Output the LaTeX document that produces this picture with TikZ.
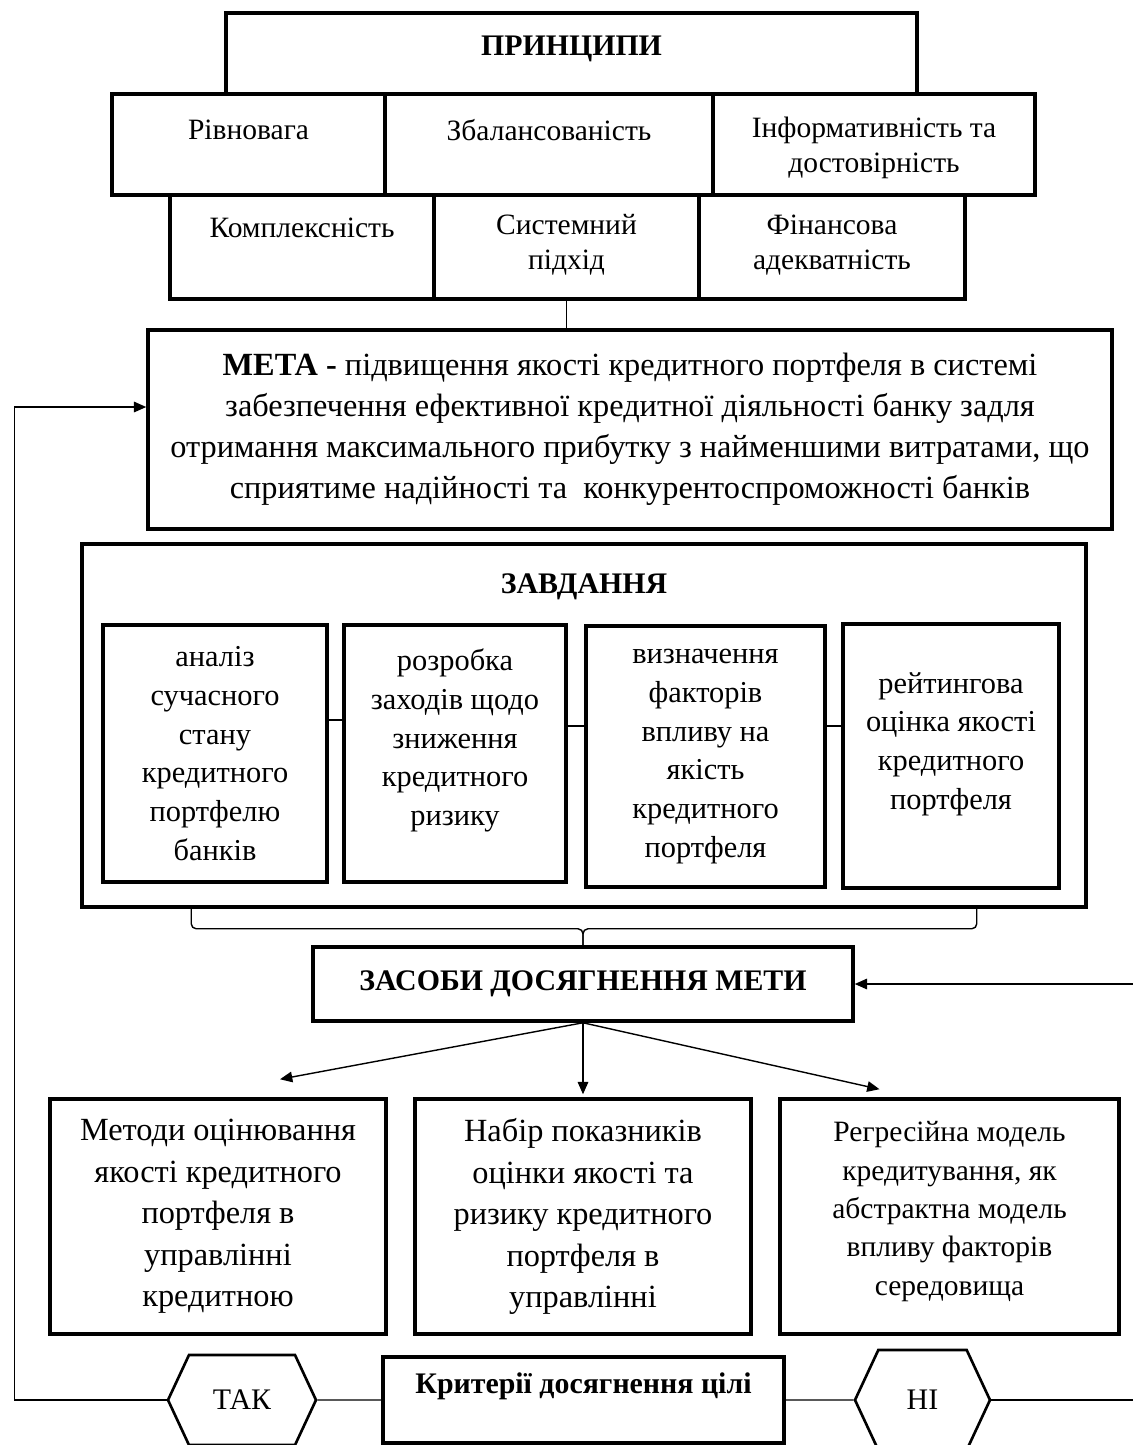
\documentclass[tikz,border=0pt]{standalone}
\usepackage{fontspec}
\setmainfont{Liberation Serif}
\usetikzlibrary{arrows.meta, positioning, shapes.symbols}

\begin{document}
\begin{tikzpicture}[x=0.02cm, y=-0.02cm,
  wh/.style 2 args={minimum width=#1*0.02cm, minimum height=#2*0.02cm},
  cell/.style={draw, line width=2pt, fill=white, inner sep=0pt, align=center},
  lbl/.style={inner sep=0pt, align=center},
  hexa/.style={draw, line width=1.5pt, signal, signal to=west and east,
    signal pointer angle=130, inner sep=0pt},
  link/.style={line width=0.8pt},
  arr/.style={line width=0.8pt, -{Triangle[length=7pt, width=6pt]}},
  rowfont/.style={font=\fontsize{16.8}{20}\selectfont},
  headfont/.style={font=\fontsize{17}{20}\selectfont\bfseries},
  taskfont/.style={font=\fontsize{17.3}{22}\selectfont},
  meanfont/.style={font=\fontsize{18.4}{23.6}\selectfont}]
  \useasboundingbox (0,0) rectangle (1133,1445);

  % principles
  \node[cell, wh={691}{82}] (princ) at (571.5,54) {};
  \node[lbl, headfont, below=0.48cm of princ.north] (princt) {ПРИНЦИПИ};

  % first row
  \node[cell, wh={273}{101}] (rivn) at (248.5,144.5) {};
  \node[cell, wh={328}{101}] (zbal) at (549,144.5) {};
  \node[cell, wh={322}{101}] (inform) at (874,144.5) {};
  \node[lbl, rowfont, below=0.54cm of rivn.north] {Рівновага};
  \node[lbl, rowfont, below=0.54cm of zbal.north] {Збалансованість};
  \node[lbl, rowfont, below=0.48cm of inform.north] {Інформативність та\\достовірність};

  % second row
  \node[cell, wh={264}{104}] (kompl) at (302,247) {};
  \node[cell, wh={265}{104}] (system) at (566.5,247) {};
  \node[cell, wh={266}{104}] (finans) at (832,247) {};
  \node[lbl, rowfont, below=0.48cm of kompl.north] {Комплексність};
  \node[lbl, rowfont, below=0.42cm of system.north] {Системний\\підхід};
  \node[lbl, rowfont, below=0.42cm of finans.north] {Фінансова\\адекватність};

  % goal
  \node[cell, wh={964}{199}, font=\fontsize{18.4}{23.3}\selectfont] (meta) at (630,429.5)
    {\textbf{МЕТА -} підвищення якості кредитного портфеля в системі\\
     забезпечення ефективної кредитної діяльності банку задля\\
     отримання максимального прибутку з найменшими витратами, що\\
     сприятиме надійності та~ конкурентоспроможності банків};
  \draw[link] (system.south) -- (system.south |- meta.north);

  % tasks
  \node[cell, wh={1004}{363}] (zavd) at (584,725.5) {};
  \node[lbl, headfont, below=0.62cm of zavd.north] {ЗАВДАННЯ};
  \node[cell, taskfont, wh={224}{257}] (task1) at (215,753.5)
    {аналіз\\сучасного\\стану\\кредитного\\портфелю\\банків};
  \node[cell, wh={222}{257}] (task2) at (455,753.5) {};
  \node[lbl, taskfont] at ([yshift=0.26cm]task2) {розробка\\заходів щодо\\зниження\\кредитного\\ризику};
  \node[cell, taskfont, wh={239}{261}] (task3) at (705.5,756.5)
    {визначення\\факторів\\впливу на\\якість\\кредитного\\портфеля};
  \node[cell, wh={216}{264}] (task4) at (951,756) {};
  \node[lbl, taskfont] at ([yshift=0.24cm]task4) {рейтингова\\оцінка якості\\кредитного\\портфеля};
  \draw[link] ([yshift=0.67cm]task1.east) -- ([yshift=0.67cm]task1.east -| task2.west);
  \draw[link] ([yshift=0.55cm]task2.east) -- ([yshift=0.55cm]task2.east -| task3.west);
  \draw[link] ([yshift=0.61cm]task3.east) -- ([yshift=0.61cm]task3.east -| task4.west);

  % means
  \node[cell, headfont, wh={540}{74}] (zasoby) at (583,984) {ЗАСОБИ ДОСЯГНЕННЯ МЕТИ};
  \draw[link, rounded corners=0.1cm] ([xshift=2.22cm]zavd.south west) -- ++(0,20) -| (zasoby.north);
  \draw[link, rounded corners=0.1cm] ([xshift=-2.22cm]zavd.south east) -- ++(0,20) -| (zasoby.north);

  \node[cell, meanfont, wh={336}{235}] (metody) at (218,1216.5)
    {Методи оцінювання\\якості кредитного\\портфеля в\\управлінні\\кредитною};
  \node[cell, meanfont, wh={336}{235}] (nabir) at (583,1216.5)
    {Набір показників\\оцінки якості та\\ризику кредитного\\портфеля в\\управлінні};
  \node[cell, wh={339}{235}] (regr) at (949.5,1216.5) {};
  \node[lbl, font=\fontsize{16.8}{21.9}\selectfont] at ([yshift=0.1cm]regr)
    {Регресійна модель\\кредитування, як\\абстрактна модель\\впливу факторів\\середовища};
  \draw[arr] (zasoby.south) -- ([shift={(62,-18)}]metody.north);
  \draw[arr] (zasoby.south) -- ([yshift=0.06cm]nabir.north);
  \draw[arr] (zasoby.south) -- ([shift={(-70,-8)}]regr.north);

  % criteria
  \node[cell, wh={401}{86}] (krit) at (583.5,1400) {};
  \node[lbl, headfont, below=0.34cm of krit.north] {Критерії досягнення цілі};
  \node[hexa, wh={148}{90}, font=\fontsize{17}{20}\selectfont] (tak) at (242,1400) {ТАК};
  \node[hexa, wh={135}{100}, font=\fontsize{17}{20}\selectfont] (ni) at (922.5,1400) {НІ};
  \draw[link] (tak) -- (krit);
  \draw[link] (krit) -- (ni);
  \draw[arr] (tak.west) -- ++(-152,0) |- ([yshift=0.45cm]meta.west);
  \draw[arr] (ni.east) -- ++(146,0) |- (zasoby.east);
\end{tikzpicture}
\end{document}
